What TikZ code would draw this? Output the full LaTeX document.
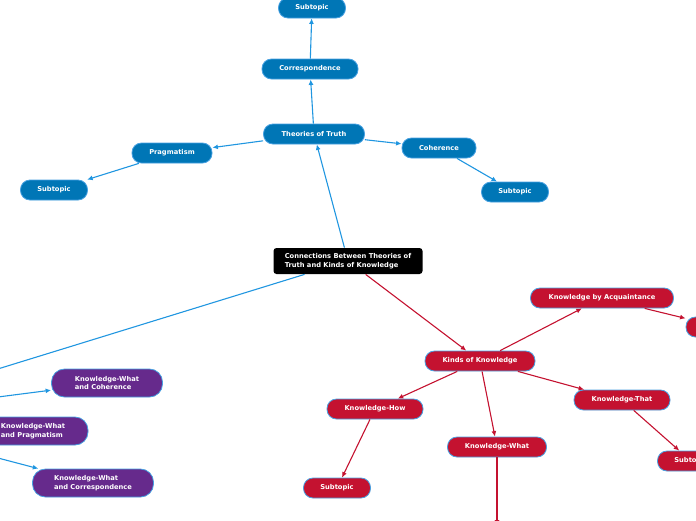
\documentclass[tikz,border=0pt]{standalone}
\usepackage{fontspec}
\setmainfont{DejaVu Sans}
\usetikzlibrary{positioning, arrows.meta}
\definecolor{topicblue}{RGB}{0,118,182}
\definecolor{lineblue}{RGB}{32,150,224}
\definecolor{rimblue}{RGB}{70,160,225}
\definecolor{kred}{RGB}{196,18,48}
\definecolor{kpurple}{RGB}{102,42,140}

\begin{document}
\begin{tikzpicture}[x=1pt, y=-1pt,
    every node/.style={draw=rimblue, line width=0.8pt, rounded corners=9.5pt, minimum height=20pt,
        inner xsep=4pt, inner ysep=0pt, text=white, font=\bfseries\fontsize{6.7}{8.8}\selectfont},
    bluebox/.style={fill=topicblue},
    redbox/.style={fill=kred},
    purplebox/.style={fill=kpurple, align=left, minimum height=28pt, rounded corners=13pt},
    rootbox/.style={fill=black, draw=none, align=left, minimum height=26pt, rounded corners=3pt},
    blueline/.style={draw=lineblue, line width=1.1pt, -{Latex[length=5.5pt, width=5pt]}},
    redline/.style={draw=kred, line width=1.1pt, -{Latex[length=5.5pt, width=5pt]}}]
    \useasboundingbox (0,0) rectangle (696,520);
    \clip (0,0) rectangle (696,520);

    \node[rootbox, minimum width=149pt] (root) at (348,261) {Connections Between Theories of\\Truth and Kinds of Knowledge};

    \node[bluebox, minimum width=101pt] (tt) at (314,134) {Theories of Truth};
    \node[bluebox, minimum width=96pt] (co) at (310,69) {Correspondence};
    \node[bluebox, minimum width=67pt] (st1) at (312,8) {Subtopic};
    \node[bluebox, minimum width=80pt] (pr) at (172,153) {Pragmatism};
    \node[bluebox, minimum width=67pt] (st2) at (54,190) {Subtopic};
    \node[bluebox, minimum width=74pt] (ch) at (439,148) {Coherence};
    \node[bluebox, minimum width=67pt] (st3) at (515,192) {Subtopic};

    \coordinate (kwt) at (-158,417);
    \node[purplebox, minimum width=111pt] (kc) at (107,383) {Knowledge-What\\and Coherence};
    \node[purplebox, minimum width=110pt] (kp) at (33,431) {Knowledge-What\\and Pragmatism};
    \node[purplebox, minimum width=121pt] (kr) at (93,483) {Knowledge-What\\and Correspondence};

    \node[redbox, minimum width=110pt] (kk) at (480,361) {Kinds of Knowledge};
    \node[redbox, minimum width=143pt] (ka) at (602,298) {Knowledge by Acquaintance};
    \node[redbox, minimum width=70pt] (kx) at (721,327) {};
    \node[redbox, minimum width=96pt] (kh) at (375,409) {Knowledge-How};
    \node[redbox, minimum width=67pt] (st4) at (337,488) {Subtopic};
    \node[redbox, minimum width=99pt] (kw) at (497,447) {Knowledge-What};
    \node[redbox, minimum width=80pt] (ky) at (497,536) {};
    \node[redbox, minimum width=96pt] (kt) at (622,400) {Knowledge-That};
    \node[redbox, minimum width=67pt] (st5) at (691,461) {Subtopic};

    \draw[blueline] (root) -- (tt);
    \draw[blueline] (tt) -- (co);
    \draw[blueline] (co) -- (st1);
    \draw[blueline] (tt) -- (pr);
    \draw[blueline] (pr) -- (st2);
    \draw[blueline] (tt) -- (ch);
    \draw[blueline] (ch) -- (st3);
    \draw[blueline] (root) -- (kwt);
    \draw[blueline] (kwt) -- (kc);
    \draw[blueline] (kwt) -- (kp);
    \draw[blueline] (kwt) -- (kr);

    \draw[redline] (root) -- (kk);
    \draw[redline] (kk) -- (ka);
    \draw[redline] (ka) -- (kx);
    \draw[redline] (kk) -- (kh);
    \draw[redline] (kh) -- (st4);
    \draw[redline] (kk) -- (kw);
    \draw[redline] (kw) -- (ky);
    \draw[redline] (kk) -- (kt);
    \draw[redline] (kt) -- (st5);
\end{tikzpicture}
\end{document}
